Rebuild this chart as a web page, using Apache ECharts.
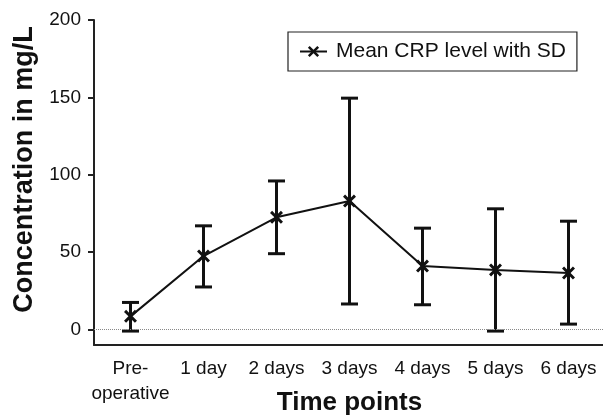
<!DOCTYPE html>
<html>
<head>
<meta charset="utf-8">
<script src="https://cdn.jsdelivr.net/npm/echarts@6/dist/echarts.min.js"></script>
<style>
html,body{margin:0;padding:0;background:#fff;}
#chart{width:603px;height:420px;}
</style>
</head>
<body>
<div id="chart"></div>
<script>
var categories = ['Pre-\noperative', '1 day', '2 days', '3 days', '4 days', '5 days', '6 days'];
var meanCRP = [8.5, 47.5, 72.5, 83, 41, 38.5, 36.5];
var upperSD = [17.5, 67, 96, 149.5, 65.5, 78, 70];
var lowerSD = [-1, 27.5, 49, 16.5, 16, -1, 3.5];
var yTicks = [0, 50, 100, 150, 200];

var errData = categories.map(function (c, i) { return [i, lowerSD[i], upperSD[i]]; });
var FONT = '"Liberation Sans", Arial, Helvetica, sans-serif';
var xSymbol = 'path://M0,1.6L1.6,0L5,3.4L8.4,0L10,1.6L6.6,5L10,8.4L8.4,10L5,6.6L1.6,10L0,8.4L3.4,5Z';

var chart = echarts.init(document.getElementById('chart'), null, {renderer: 'canvas'});
chart.setOption({
  animation: false,
  backgroundColor: '#fff',
  grid: {left: 94, top: 20, width: 511, bottom: 75, containLabel: false, outerBoundsMode: 'none'},
  legend: {
    left: 288, top: 32,
    padding: [9, 11, 9, 11],
    borderColor: '#222', borderWidth: 1.2,
    itemWidth: 27, itemHeight: 14,
    textStyle: {fontFamily: FONT, fontSize: 21, color: '#111', padding: [0, 0, 0, 4]},
    data: ['Mean CRP level with SD'],
    selectedMode: false
  },
  xAxis: {
    type: 'category',
    data: categories,
    boundaryGap: true,
    axisLine: {onZero: false, lineStyle: {color: '#222', width: 2}},
    axisTick: {alignWithLabel: true, length: 7, lineStyle: {color: '#222', width: 2}},
    axisLabel: {fontFamily: FONT, fontSize: 19, color: '#111', margin: 11, lineHeight: 25, interval: 0},
    name: 'Time points',
    nameLocation: 'middle',
    nameGap: 45,
    nameMoveOverlap: false,
    nameTextStyle: {fontFamily: FONT, fontSize: 26, fontWeight: 'bold', color: '#111'}
  },
  yAxis: {
    type: 'value',
    min: -10, max: 200,
    splitLine: {show: false},
    axisLine: {show: true, lineStyle: {color: '#222', width: 2}},
    axisTick: {show: true, length: 6, customValues: yTicks, lineStyle: {color: '#222', width: 2}},
    axisLabel: {fontFamily: FONT, fontSize: 19, color: '#111', margin: 13, customValues: yTicks},
    name: 'Concentration in mg/L',
    nameLocation: 'middle',
    nameGap: 56,
    nameMoveOverlap: false,
    nameTextStyle: {fontFamily: FONT, fontSize: 27, fontWeight: 'bold', color: '#111', padding: [0, 0, 0, 26]}
  },
  series: [
    {
      name: 'Mean CRP level with SD',
      type: 'line',
      data: meanCRP,
      symbol: xSymbol,
      symbolSize: 13,
      itemStyle: {color: '#111'},
      lineStyle: {color: '#111', width: 2},
      z: 3,
      markLine: {
        silent: true,
        symbol: 'none',
        label: {show: false},
        lineStyle: {color: '#888', type: 'dotted', width: 1},
        data: [{yAxis: 0}]
      }
    },
    {
      name: 'SD',
      type: 'custom',
      data: errData,
      z: 2,
      renderItem: function (params, api) {
        var x = api.value(0);
        var lo = api.coord([x, api.value(1)]);
        var hi = api.coord([x, api.value(2)]);
        var hw = 8.5;
        var st = {stroke: '#111', lineWidth: 3};
        return {
          type: 'group',
          children: [
            {type: 'line', shape: {x1: lo[0], y1: lo[1], x2: hi[0], y2: hi[1]}, style: st},
            {type: 'line', shape: {x1: hi[0] - hw, y1: hi[1], x2: hi[0] + hw, y2: hi[1]}, style: st},
            {type: 'line', shape: {x1: lo[0] - hw, y1: lo[1], x2: lo[0] + hw, y2: lo[1]}, style: st}
          ]
        };
      }
    }
  ]
});
</script>
</body>
</html>
